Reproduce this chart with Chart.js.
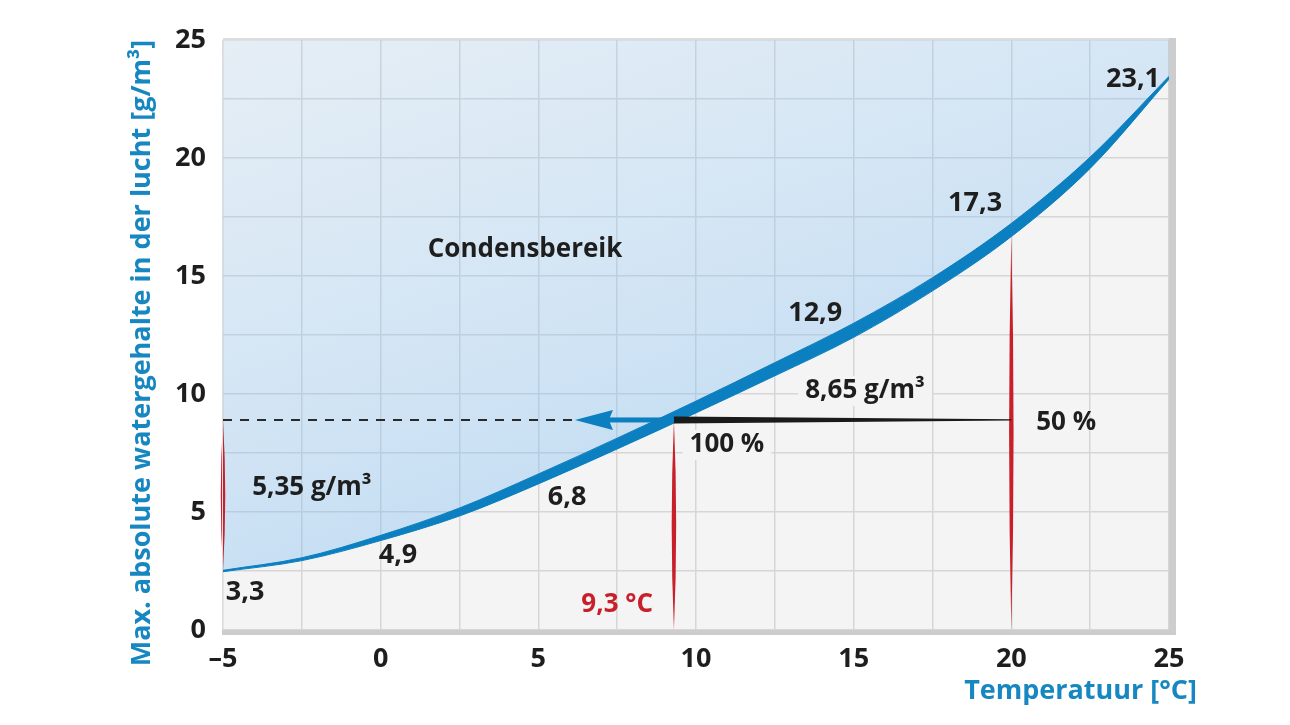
<!DOCTYPE html>
<html>
<head>
<meta charset="utf-8">
<script src="https://cdn.jsdelivr.net/npm/chart.js@4.4.0/dist/chart.umd.min.js"></script>
<style>
  html, body { margin: 0; background: #fff; }
  #wrap { width: 1290px; height: 725px; }
</style>
</head>
<body>
<div id="wrap"><canvas id="chart" width="1290" height="725"></canvas></div>
<script>
// ---------------- DATA ----------------
// temperature [°C] and the two edges of the saturation curve band [g/m3]
const temps      = [-5, -2.5, 0, 2.5, 5, 7.5, 10, 12.5, 15, 17.5, 20, 22.5, 25];
const curveUpper = [2.53, 3.06, 4.01, 5.17, 6.61, 8.13, 9.70, 11.33, 13.00, 14.93, 17.23, 20.04, 23.46];
const curveLower = [2.47, 2.94, 3.79, 4.83, 6.19, 7.67, 9.20, 10.77, 12.40, 14.37, 16.67, 19.56, 23.34];

// value labels along the curve
const valueLabels = ['3,3', '4,9', '6,8', '12,9', '17,3', '23,1'];
const valueLabelX = [-4.30, 0.55, 5.91, 13.78, 18.85, 23.86];
const valueLabelY = [1.61, 3.18, 5.64, 13.43, 18.09, 23.35];

// dew point construction
const dewLevel = 8.9;       // g/m3 reached at 100 %
const dewTemp = 9.3;        // °C
const roomTemp = 20;        // °C, 50 %
const arrowTip = 6.16;      // °C, end of blue arrow
const spindleX    = [-5, 9.3, 20];
const spindleFrom = [2.5, 0, 0];
const spindleTo   = [8.9, 8.9, 16.7];

// free texts [text, x, y, colour, with background]
const notes = [
  ['Condensbereik', 4.58, 16.14, '#1e1e1e', false],
  ['8,65 g/m³', 15.36, 10.13, '#1e1e1e', true],
  ['50 %', 21.74, 8.77, '#1e1e1e', false],
  ['100 %', 10.98, 7.84, '#1e1e1e', true],
  ['5,35 g/m³', -2.18, 6.02, '#1e1e1e', false],
  ['9,3 °C', 7.50, 1.06, '#c8202a', false]
];

const xMin = -5, xMax = 25, yMin = 0, yMax = 25, gridStep = 2.5, labelStep = 5;

const FONT = "'Open Sans', 'Noto Sans', sans-serif";
const BLUE = '#0b7fc0';
const TITLE_BLUE = '#1787c2';
const RED = '#c8202a';
const PLOT_BG = '#f4f4f4';

// ---------------- PLUGINS ----------------
const plotBackground = {
  id: 'plotBackground',
  beforeDraw(chart) {
    const { ctx, chartArea: a } = chart;
    ctx.save();
    ctx.fillStyle = '#fff';
    ctx.fillRect(0, 0, chart.width, chart.height);
    ctx.fillStyle = PLOT_BG;
    ctx.fillRect(a.left, a.top, a.right - a.left, a.bottom - a.top);
    ctx.restore();
  }
};

function spindle(ctx, x, y1, y2, w) {
  const m = (y1 + y2) / 2;
  ctx.beginPath();
  ctx.moveTo(x, y1);
  ctx.quadraticCurveTo(x + w, m, x, y2);
  ctx.quadraticCurveTo(x - w, m, x, y1);
  ctx.closePath();
  ctx.fill();
}

const overlay = {
  id: 'overlay',
  afterDatasetsDraw(chart) {
    const { ctx, chartArea: a } = chart;
    const xs = chart.scales.x, ys = chart.scales.y;
    const px = v => xs.getPixelForValue(v);
    const py = v => ys.getPixelForValue(v);
    ctx.save();

    // red spindles
    ctx.fillStyle = RED;
    spindleX.forEach((x, i) => spindle(ctx, px(x), py(spindleTo[i]), py(spindleFrom[i]), 4.5));

    const yl = py(dewLevel);

    // dashed line
    ctx.strokeStyle = '#2a2a2a';
    ctx.lineWidth = 2;
    ctx.setLineDash([9, 8]);
    ctx.beginPath();
    ctx.moveTo(px(xMin), yl);
    ctx.lineTo(px(arrowTip), yl);
    ctx.stroke();
    ctx.setLineDash([]);

    // black tapered line from 50 % to 100 %
    ctx.fillStyle = '#1a1a1a';
    ctx.beginPath();
    ctx.moveTo(px(dewTemp), yl - 3.5);
    ctx.lineTo(px(roomTemp), yl - 0.6);
    ctx.lineTo(px(roomTemp), yl + 0.6);
    ctx.lineTo(px(dewTemp), yl + 3.5);
    ctx.closePath();
    ctx.fill();

    // blue arrow
    const tip = px(arrowTip), back = tip + 38;
    ctx.fillStyle = BLUE;
    ctx.fillRect(back - 4, yl - 2.5, px(dewTemp) - back + 4, 5);
    ctx.beginPath();
    ctx.moveTo(tip, yl);
    ctx.lineTo(back, yl - 10);
    ctx.lineTo(back - 4, yl);
    ctx.lineTo(back, yl + 10);
    ctx.closePath();
    ctx.fill();

    // texts
    ctx.font = `700 26px ${FONT}`;
    ctx.textAlign = 'center';
    ctx.textBaseline = 'middle';
    notes.forEach(([t, x, y, col, bg]) => {
      const cx = px(x), cy = py(y);
      if (bg) {
        const w = ctx.measureText(t).width + 14;
        ctx.fillStyle = PLOT_BG;
        ctx.fillRect(cx - w / 2, cy - 15, w, 30);
      }
      ctx.fillStyle = col;
      ctx.fillText(t, cx, cy);
    });
    ctx.fillStyle = '#1e1e1e';
    ctx.font = `700 27px ${FONT}`;
    valueLabels.forEach((t, i) => ctx.fillText(t, px(valueLabelX[i]), py(valueLabelY[i])));

    // plot frame with shadow at right / bottom
    ctx.fillStyle = '#dcdcdc';
    ctx.fillRect(a.left, a.top - 2, a.right - a.left, 2);
    ctx.fillRect(a.left - 1, a.top, 1, a.bottom - a.top);
    ctx.fillStyle = '#cdcdcd';
    ctx.fillRect(a.right, a.top - 2, 7, a.bottom - a.top + 7);
    ctx.fillRect(a.left - 1, a.bottom, a.right - a.left + 1, 5);

    // axis titles
    ctx.fillStyle = TITLE_BLUE;
    ctx.font = `700 27px ${FONT}`;
    ctx.textAlign = 'right';
    ctx.fillText('Temperatuur [°C]', 1197, 691);
    ctx.translate(142, 353);
    ctx.rotate(-Math.PI / 2);
    ctx.textAlign = 'center';
    ctx.fillText('Max. absolute watergehalte in der lucht [g/m³]', 0, 0);
    ctx.restore();
  }
};

// ---------------- CHART ----------------
const ctx = document.getElementById('chart').getContext('2d');

const upperPoints = temps.map((t, i) => ({ x: t, y: curveUpper[i] }));
const lowerPoints = temps.map((t, i) => ({ x: t, y: curveLower[i] }));

new Chart(ctx, {
  type: 'line',
  data: {
    datasets: [
      {
        // condensation area above the curve
        data: upperPoints,
        borderColor: BLUE,
        borderWidth: 1,
        pointRadius: 0,
        cubicInterpolationMode: 'monotone',
        fill: 'end',
        backgroundColor: (c) => {
          const a = c.chart.chartArea;
          if (!a) return 'rgba(120,185,235,0.3)';
          const g = c.chart.ctx.createLinearGradient(a.left, a.top, a.left + 200, a.bottom);
          g.addColorStop(0, 'rgba(140,200,250,0.14)');
          g.addColorStop(0.6, 'rgba(130,192,245,0.30)');
          g.addColorStop(1, 'rgba(120,185,240,0.42)');
          return g;
        }
      },
      {
        // the thick curve band itself
        data: lowerPoints,
        borderColor: BLUE,
        borderWidth: 1,
        pointRadius: 0,
        cubicInterpolationMode: 'monotone',
        fill: '-1',
        backgroundColor: BLUE
      }
    ]
  },
  options: {
    responsive: false,
    animation: false,
    events: [],
    layout: { padding: { top: 40, right: 121, bottom: 0, left: 0 } },
    plugins: { legend: { display: false }, tooltip: { enabled: false } },
    scales: {
      x: {
        type: 'linear',
        min: xMin,
        max: xMax,
        afterFit: s => { s.height = 95; },
        border: { display: false },
        grid: { color: '#d6d6d6', lineWidth: 1.5, drawTicks: false },
        ticks: {
          stepSize: gridStep,
          padding: 13,
          autoSkip: false,
          maxRotation: 0,
          color: '#1e1e1e',
          font: { family: FONT, size: 27, weight: '700' },
          callback: v => (v % labelStep === 0 ? String(v).replace('-', '–') : '')
        }
      },
      y: {
        min: yMin,
        max: yMax,
        afterFit: s => { s.width = 223; },
        border: { display: false },
        grid: { color: '#d6d6d6', lineWidth: 1.5, drawTicks: false },
        ticks: {
          stepSize: gridStep,
          padding: 17,
          autoSkip: false,
          color: '#1e1e1e',
          font: { family: FONT, size: 27, weight: '700' },
          callback: v => (v % labelStep === 0 ? String(v) : '')
        }
      }
    }
  },
  plugins: [plotBackground, overlay]
});
</script>
</body>
</html>
